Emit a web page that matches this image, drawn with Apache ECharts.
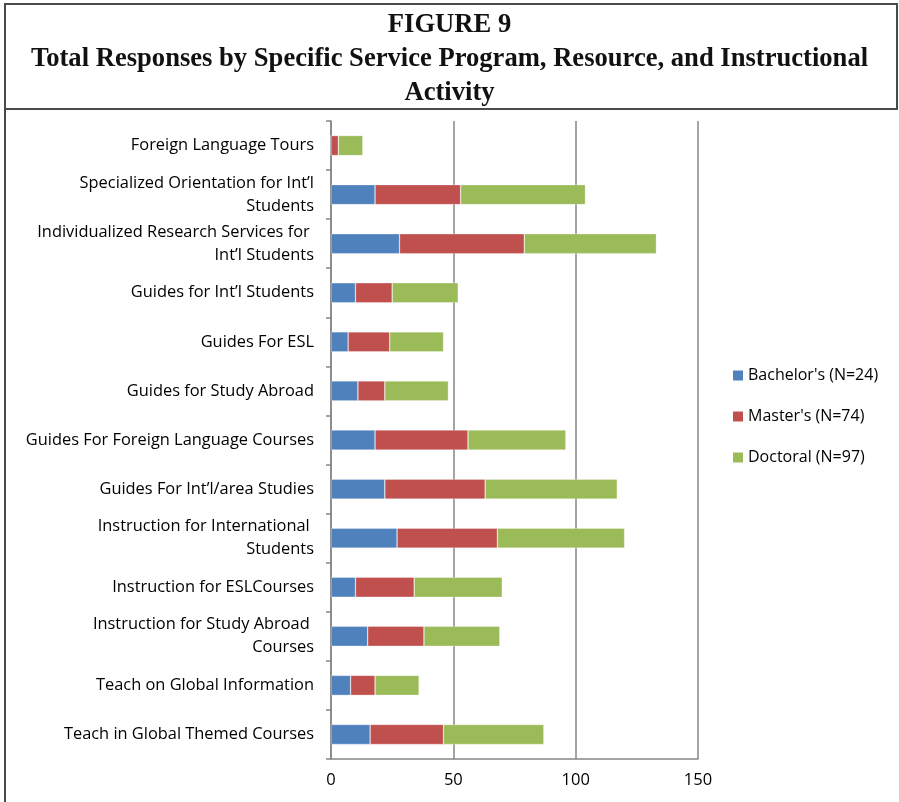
<!DOCTYPE html>
<html>
<head>
<meta charset="utf-8">
<script src="https://cdn.jsdelivr.net/npm/echarts@6/dist/echarts.min.js"></script>
<style>
html,body{margin:0;padding:0;background:#fff;}
#chart{width:899px;height:802px;}
</style>
</head>
<body>
<div id="chart"></div>
<script>
const categories = [
  "Foreign Language Tours",
  "Specialized Orientation for Int\u2019l\nStudents",
  "Individualized Research Services for \nInt\u2019l Students",
  "Guides for Int\u2019l Students",
  "Guides For ESL",
  "Guides for Study Abroad",
  "Guides For Foreign Language Courses",
  "Guides For Int\u2019l/area Studies",
  "Instruction for International \nStudents",
  "Instruction for ESLCourses",
  "Instruction for Study Abroad \nCourses",
  "Teach on Global Information",
  "Teach in Global Themed Courses"
];
const bachelors = [0, 18, 28, 10, 7, 11, 18, 22, 27, 10, 15, 8, 16];
const masters   = [3, 35, 51, 15, 17, 11, 38, 41, 41, 24, 23, 10, 30];
const doctoral  = [10, 51, 54, 27, 22, 26, 40, 54, 52, 36, 31, 18, 41];
const seriesNames = ["Bachelor's (N=24)", "Master's (N=74)", "Doctoral (N=97)"];
const xTicks = [0, 50, 100, 150];
const titleLines = ["FIGURE 9", "Total Responses by Specific Service Program, Resource, and Instructional", "Activity"];

const chart = echarts.init(document.getElementById('chart'), null, {renderer: 'canvas'});
const colors = ['#4F81BD', '#C0504D', '#9BBB59'];
const gray = '#868686';
const labelFont = '"Open Sans", "Noto Sans", sans-serif';

function barSeries(name, data, color) {
  return {
    name: name,
    type: 'bar',
    stack: 'total',
    data: data,
    barWidth: 20,
    itemStyle: {color: color, borderColor: 'rgba(255,255,255,0.5)', borderWidth: 0.6},
    emphasis: {disabled: true},
    animation: false
  };
}

chart.setOption({
  animation: false,
  title: {
    text: titleLines.join('\n'),
    left: 'center',
    top: 3,
    textStyle: {
      fontFamily: '"Liberation Serif", "Times New Roman", serif',
      fontWeight: 'bold',
      fontSize: 26.6,
      lineHeight: 34,
      color: '#111'
    }
  },
  graphic: [
    {type: 'rect', shape: {x: 5, y: 4, width: 892, height: 105}, style: {fill: 'none', stroke: '#4a4a4a', lineWidth: 2}, silent: true},
    {type: 'line', shape: {x1: 5, y1: 109, x2: 5, y2: 802}, style: {stroke: '#4a4a4a', lineWidth: 2}, silent: true}
  ],
  legend: {
    orient: 'vertical',
    left: 733,
    top: 367,
    padding: 0,
    itemWidth: 10,
    itemHeight: 10,
    itemGap: 24,
    icon: 'rect',
    data: seriesNames,
    textStyle: {fontFamily: labelFont, fontSize: 16, color: '#000', lineHeight: 17, padding: [0, 0, 0, 0]},
    itemStyle: {borderWidth: 0}
  },
  grid: {left: 331, right: 201, top: 121, bottom: 43, containLabel: false},
  xAxis: {
    type: 'value',
    min: 0,
    max: 150,
    interval: 50,
    axisLine: {show: true, lineStyle: {color: gray, width: 1.5}},
    axisTick: {show: false},
    splitLine: {show: true, lineStyle: {color: gray, width: 1.5}},
    axisLabel: {
      fontFamily: labelFont, fontSize: 16.5, color: '#000', margin: 13,
      formatter: function (v) { return xTicks.indexOf(v) >= 0 ? String(v) : ''; }
    }
  },
  yAxis: {
    type: 'category',
    inverse: true,
    data: categories,
    axisLine: {show: true, lineStyle: {color: gray, width: 1.5}},
    axisTick: {show: true, length: 5, lineStyle: {color: gray, width: 1.5}},
    axisLabel: {
      fontFamily: labelFont, fontSize: 16.4, color: '#000', margin: 17,
      lineHeight: 23, align: 'right'
    }
  },
  series: [
    barSeries(seriesNames[0], bachelors, colors[0]),
    barSeries(seriesNames[1], masters, colors[1]),
    barSeries(seriesNames[2], doctoral, colors[2])
  ]
});
</script>
</body>
</html>
